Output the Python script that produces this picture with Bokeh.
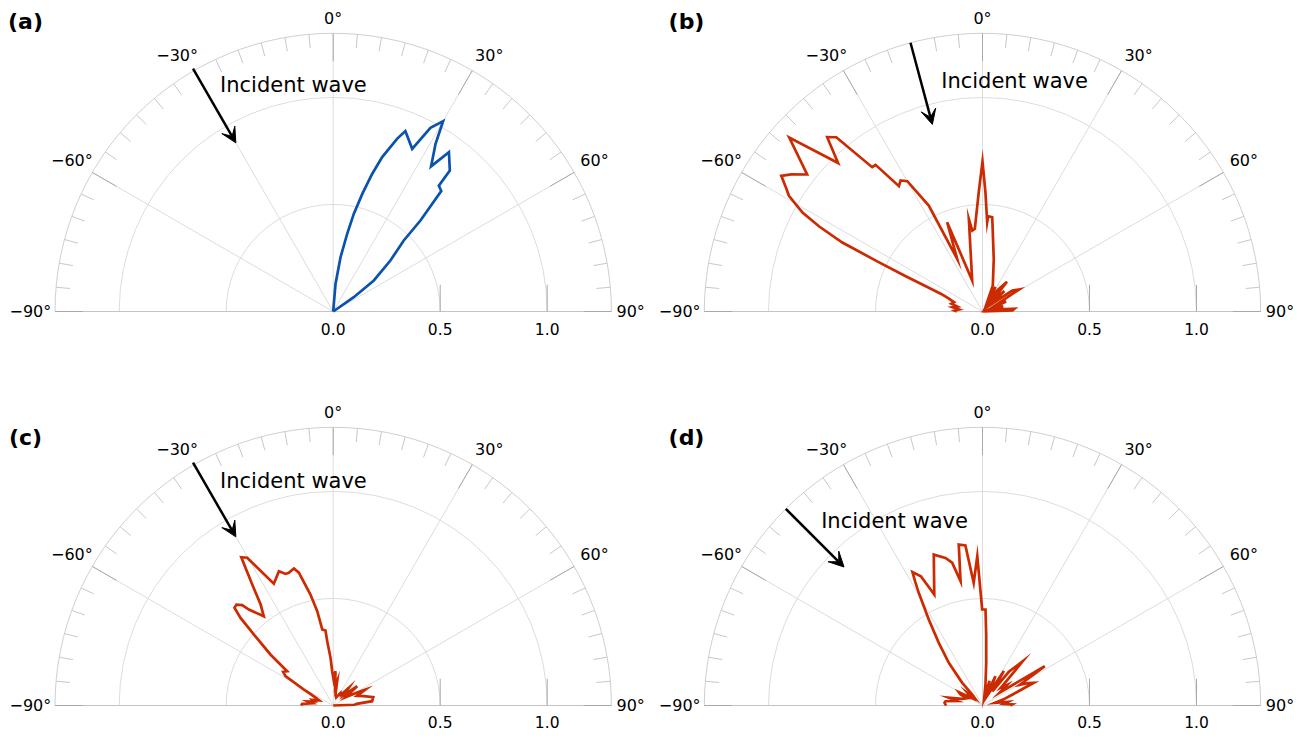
import numpy as np
from bokeh.plotting import figure
from bokeh.models import Range1d, Arrow, VeeHead
from bokeh.layouts import column, row
from bokeh.embed import file_html
from bokeh.resources import INLINE
from bokeh.core.properties import value

# ---------------- data (angle in degrees from vertical, clockwise positive; radius) ----------------
theta_a = [0, 4.8, 7.7, 10.2, 11.9, 13.9, 15.8, 17.6, 20.3, 21.8, 25.9, 27.9, 30.0, 31.4, 34.0,
           36.0, 39.6, 40.0, 41.9, 43.8, 44.8, 48.3, 52.6, 55.2, 60]
r_a = [0.0, 0.129, 0.256, 0.369, 0.466, 0.566, 0.668, 0.757, 0.860, 0.908, 0.845, 0.971, 1.027, 0.918, 0.818,
       0.920, 0.855, 0.768, 0.756, 0.589, 0.468, 0.358, 0.239, 0.117, 0.0]

theta_b = [-90, -88, -85, -82, -79, -76, -72, -69, -67, -66, -65.3, -64.5, -63.8, -62.5, -61.2, -59.1, -58,
           -56, -54.4, -52, -48, -44.2, -41.7, -40, -37.4, -36.1, -33.7, -32, -30, -26.9, -25.7, -21.6,
           -18.4, -8.4, -7.2, -5.3, -1.8, 0, 1.4, 3, 3.4, 5.9, 12.1, 21.6, 25, 28, 31, 35, 39.5, 43, 47,
           50, 55, 59, 63, 67, 71, 76, 80, 85, 88, 90]
r_b = [0.12, 0.13, 0.11, 0.14, 0.12, 0.15, 0.14, 0.17, 0.21, 0.29, 0.40, 0.55, 0.73, 0.86, 0.96, 1.055, 1.08,
       1.134, 1.10, 1.04, 1.215, 0.968, 1.091, 1.063, 0.849, 0.848, 0.704, 0.722, 0.703, 0.555, 0.273, 0.449,
       0.153, 0.437, 0.381, 0.388, 0.558, 0.701, 0.558, 0.418, 0.446, 0.443, 0.251, 0.131, 0.06, 0.13, 0.05,
       0.12, 0.18, 0.06, 0.14, 0.05, 0.17, 0.20, 0.08, 0.12, 0.04, 0.10, 0.05, 0.15, 0.14, 0.0]

theta_c = [-90, -87, -84, -81, -78, -75, -70, -66, -63, -61.4, -58.4, -56, -53.3, -50.9, -48.2, -46.6,
           -45.3, -43.8, -42.2, -41.3, -37.9, -35.7, -33.8, -32.5, -31.8, -30.2, -26, -22, -19.9, -18.5,
           -16, -14.5, -11.6, -9.6, -8.2, -5.9, -5.3, -3.2, -1.7, 1, 3.8, 6, 9.3, 12, 20, 30, 36, 41.4,
           46, 51.2, 56, 62.4, 63.6, 68, 73, 78.3, 83.7, 86, 88, 90]
r_c = [0.15, 0.145, 0.10, 0.12, 0.09, 0.10, 0.07, 0.09, 0.12, 0.156, 0.262, 0.282, 0.268, 0.378, 0.498, 0.596,
       0.649, 0.653, 0.633, 0.597, 0.528, 0.581, 0.68, 0.763, 0.815, 0.799, 0.633, 0.677, 0.654, 0.654,
       0.666, 0.641, 0.529, 0.447, 0.359, 0.352, 0.302, 0.223, 0.16, 0.12, 0.161, 0.09, 0.115, 0.05, 0.04,
       0.068, 0.06, 0.11, 0.07, 0.144, 0.07, 0.144, 0.168, 0.12, 0.149, 0.191, 0.183, 0.11, 0.10, 0.0]

theta_d = [-90, -86, -83.4, -80, -77, -72, -65, -63.4, -60.7, -55, -50, -46, -43, -41.8, -38.3, -34.9,
           -32, -29.5, -28.5, -27.7, -25.5, -23.5, -17.9, -14.1, -12, -10, -8.4, -6.1, -4.1, -2.0, -0.2,
           1.8, 3, 5, 8, 12, 16, 20, 23.9, 27, 31.8, 35, 38, 42.3, 46, 50, 53, 57.8, 61, 64, 66.1, 70,
           74, 78, 82, 86, 88, 90]
r_d = [0.17, 0.178, 0.174, 0.12, 0.162, 0.10, 0.08, 0.115, 0.127, 0.06, 0.09, 0.05, 0.07, 0.142, 0.254,
       0.357, 0.474, 0.605, 0.66, 0.704, 0.669, 0.565, 0.741, 0.711, 0.682, 0.590, 0.760, 0.752, 0.575,
       0.698, 0.449, 0.449, 0.33, 0.20, 0.10, 0.04, 0.12, 0.05, 0.15, 0.06, 0.19, 0.08, 0.20, 0.28, 0.12,
       0.15, 0.10, 0.344, 0.20, 0.24, 0.262, 0.15, 0.10, 0.06, 0.12, 0.10, 0.139, 0.13]

angle_ticks = [-90, -60, -30, 0, 30, 60, 90]
angle_labels = ["\u221290\u00b0", "\u221260\u00b0", "\u221230\u00b0", "0\u00b0", "30\u00b0", "60\u00b0", "90\u00b0"]
radial_ticks = [0.0, 0.5, 1.0]
radial_labels = ["0.0", "0.5", "1.0"]
rings = [0.5, 1.0]
r_max = 1.3

# ---------------- style ----------------
S = 214.0  # px per radial unit
FONT = "DejaVu Sans"
BLUE = "#0a52ad"
RED = "#cc2a00"
GRID = "#dcdcdc"
TICK_MINOR = "#c8c8c8"
TICK_MAJOR = "#a9a9a9"


def pol(theta, r):
    t = np.radians(np.asarray(theta, dtype=float))
    r = np.asarray(r, dtype=float)
    return r * np.sin(t), r * np.cos(t)


def make_panel(width, height, cx, cy, letter, letter_px, theta, r, color,
               arrow_angle, arrow_r0, arrow_r1, text_xy, rlab_off):
    x0, x1 = -cx / S, (width - cx) / S
    y0, y1 = -(height - cy) / S, cy / S
    p = figure(width=width, height=height, x_range=Range1d(x0, x1), y_range=Range1d(y0, y1),
               output_backend="svg", toolbar_location=None, tools="",
               x_axis_type=None, y_axis_type=None, min_border=0,
               min_border_left=0, min_border_right=0, min_border_top=0, min_border_bottom=0,
               outline_line_color=None, background_fill_color="white", border_fill_color="white")
    p.grid.visible = False

    # rings and outer arc
    p.arc(x=[0, 0], y=[0, 0], radius=rings, start_angle=0, end_angle=np.pi,
          line_color=GRID, line_width=1)
    p.arc(x=0, y=0, radius=r_max, start_angle=0, end_angle=np.pi, line_color="#cfcfcf", line_width=1)

    # spokes
    sp = [-60, -30, 0, 30, 60]
    sx, sy = pol(sp, [r_max] * len(sp))
    p.segment(x0=[0] * len(sp), y0=[0] * len(sp), x1=sx, y1=sy, line_color=GRID, line_width=1)
    # baseline (-90 .. 90)
    p.segment(x0=[-r_max], y0=[0], x1=[r_max], y1=[0], line_color="#c4c4c4", line_width=1)

    # minor angular ticks every 5 degrees
    mn = [a for a in range(-85, 90, 5) if a % 30 != 0]
    ax0, ay0 = pol(mn, [r_max] * len(mn))
    ax1, ay1 = pol(mn, [r_max - 0.065] * len(mn))
    p.segment(x0=ax0, y0=ay0, x1=ax1, y1=ay1, line_color=TICK_MINOR, line_width=1)
    # major angular ticks
    bx0, by0 = pol(angle_ticks, [r_max] * len(angle_ticks))
    bx1, by1 = pol(angle_ticks, [r_max - 0.13] * len(angle_ticks))
    p.segment(x0=bx0, y0=by0, x1=bx1, y1=by1, line_color=TICK_MAJOR, line_width=1)
    # radial ticks
    rt = [0.5, 1.0]
    p.segment(x0=rt, y0=[0, 0], x1=rt, y1=[0.125, 0.125], line_color=TICK_MAJOR, line_width=1)

    # angle labels
    lab_ang = [-90, -60, -31.4, 0, 31.4, 60, 90]
    lab_r = [1.415, 1.41, 1.40, 1.37, 1.40, 1.41, 1.39]
    lx, ly = pol(lab_ang, lab_r)
    p.text(x=lx, y=ly, text=angle_labels, text_font=value(FONT), text_font_size=value("16px"),
           text_align="center", text_baseline="middle", text_color="black")
    # radial labels
    p.text(x=radial_ticks, y=[-rlab_off / S] * 3, text=radial_labels, text_font=value(FONT),
           text_font_size=value("15.5px"), text_align="center", text_baseline="middle", text_color="black")

    # curve
    cxs, cys = pol(theta, r)
    p.line(cxs, cys, line_color=color, line_width=2.7, line_join="miter")

    # incident-wave arrow
    (xa0, xa1), (ya0, ya1) = pol([arrow_angle, arrow_angle], [arrow_r0, arrow_r1])
    p.add_layout(Arrow(end=VeeHead(size=15, fill_color="black", line_color="black", line_width=1),
                       x_start=xa0, y_start=ya0, x_end=xa1, y_end=ya1,
                       line_color="black", line_width=2.5))
    p.text(x=[text_xy[0]], y=[text_xy[1]], text=["Incident wave"], text_font=value(FONT),
           text_font_size=value("21px"), text_align="center", text_baseline="middle", text_color="black")

    # panel letter
    p.text(x=[x0 + letter_px[0] / S], y=[y1 - letter_px[1] / S], text=[letter], text_font=value(FONT),
           text_font_size=value("22px"), text_font_style="bold", text_align="center",
           text_baseline="middle", text_color="black")
    return p


W = 648
H_TOP, H_BOT = 364, 366
pa = make_panel(W, H_TOP, 332.7, 311.0, "(a)", (25, 21), theta_a, r_a, BLUE, -30, 1.31, 0.91,
                (-0.186, 1.057), 17.0)
pb = make_panel(W, H_TOP, 334.0, 311.0, "(b)", (38, 21), theta_b, r_b, RED, -15, 1.30, 0.905,
                (0.150, 1.076), 17.0)
pc = make_panel(W, H_BOT, 332.7, 341.0, "(c)", (25, 73), theta_c, r_c, RED, -30, 1.31, 0.91,
                (-0.186, 1.051), 16.0)
pd = make_panel(W, H_BOT, 334.0, 341.0, "(d)", (38, 73), theta_d, r_d, RED, -45, 1.30, 0.915,
                (-0.411, 0.864), 16.0)

layout = column(row(pa, pb), row(pc, pd))
open("out.html", "w").write(file_html(layout, INLINE))
